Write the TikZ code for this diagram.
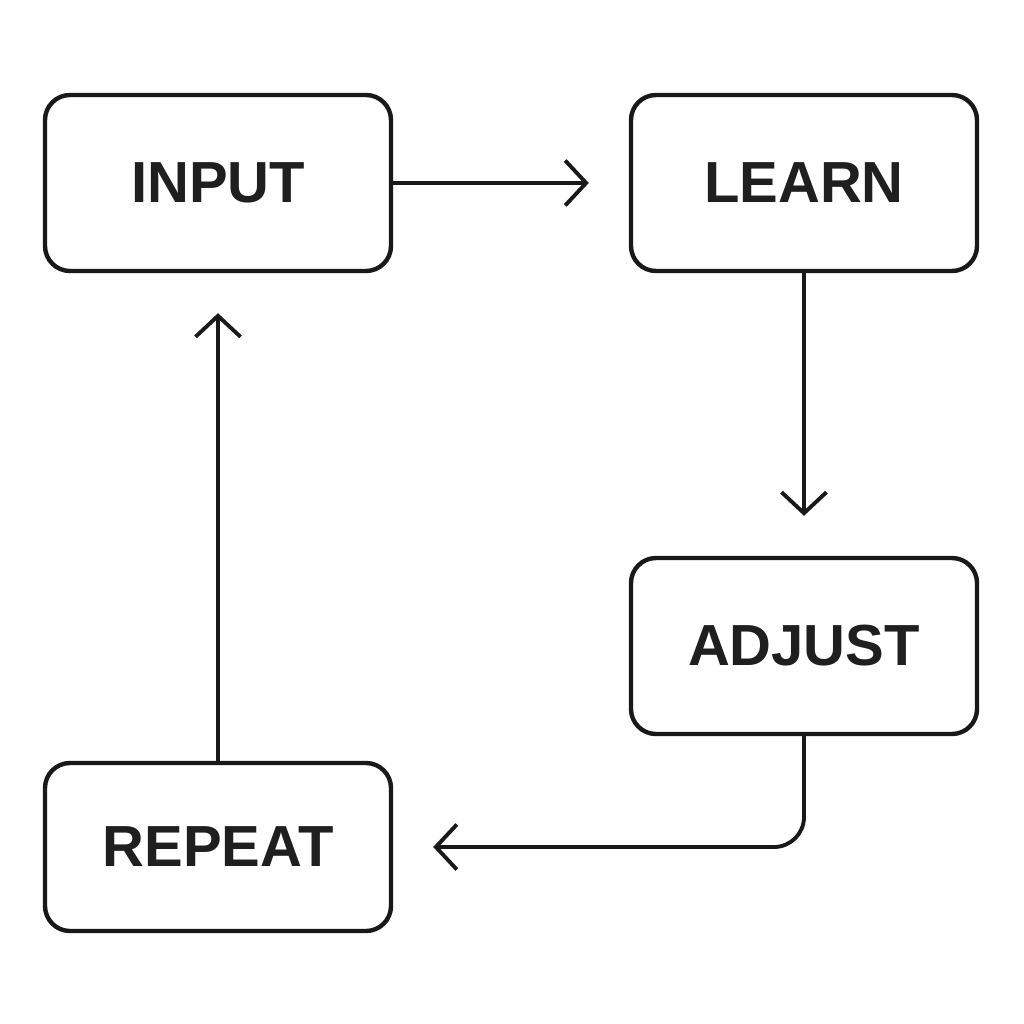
\documentclass[tikz,border=0pt]{standalone}
\usepackage{fontspec}
\setmainfont{Liberation Sans}
\usetikzlibrary{arrows.meta}
\tikzset{
  stepbox/.style={draw=black!90, line width=2.5pt, rounded corners=0.5cm, minimum width=346*0.02cm,
    font=\bfseries\fontsize{33}{40}\selectfont, text=black!88},
  flow/.style={line width=2.2pt, draw=black!90, -{Straight Barb[length=0.42cm,width=0.9cm,line width=2.2pt]}, shorten >=0.8cm}
}
\begin{document}
\begin{tikzpicture}[x=0.02cm,y=-0.02cm]
\useasboundingbox (0,0) rectangle (1024,1024);

\node[stepbox, minimum height=176*0.02cm] (input) at (218,183) {INPUT};
\node[stepbox, minimum height=176*0.02cm] (learn) at (804,183) {LEARN};
\node[stepbox, minimum height=176*0.02cm] (adjust) at (804,646) {ADJUST};
\node[stepbox, minimum height=168*0.02cm] (repeat) at (218,847) {REPEAT};

\draw[flow] (input) -- (learn);
\draw[flow] (learn) -- (adjust);
\draw[flow, rounded corners=0.6cm] (adjust.south) |- (repeat.east);
\draw[flow] (repeat) -- (input);

\end{tikzpicture}
\end{document}
